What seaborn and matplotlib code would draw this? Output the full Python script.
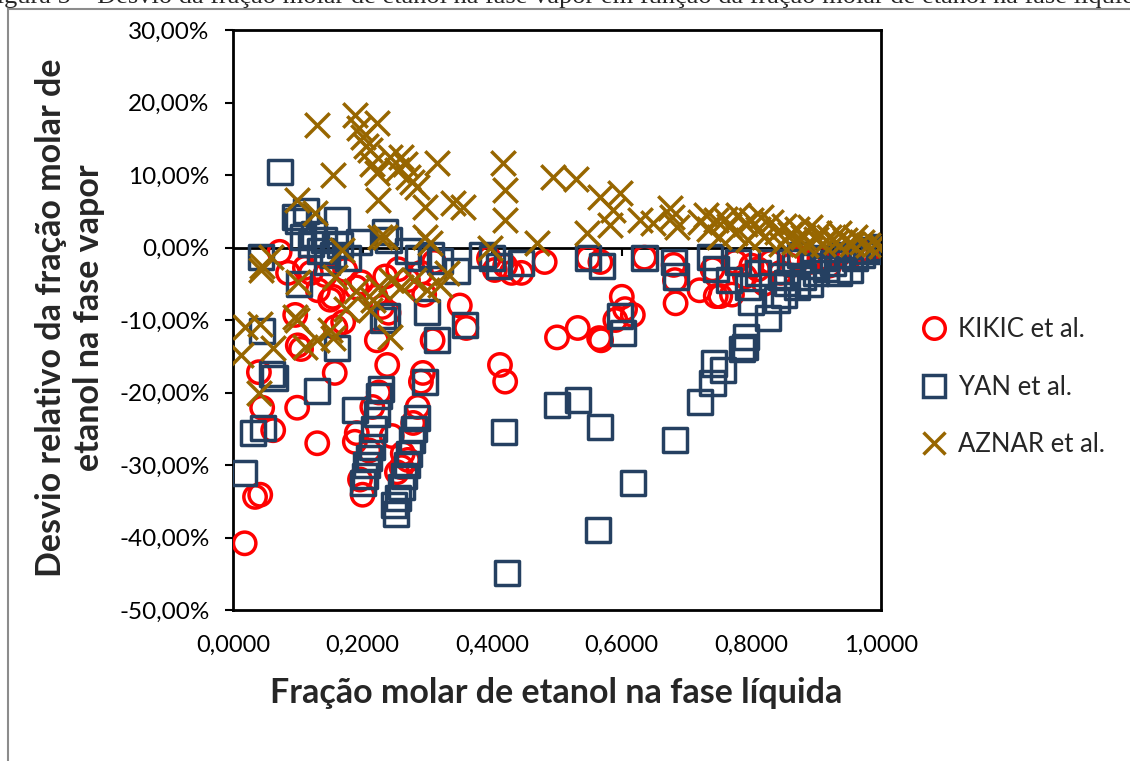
import numpy as np
import pandas as pd
import matplotlib
matplotlib.use("Agg")
import matplotlib.pyplot as plt
from matplotlib.ticker import FuncFormatter
from matplotlib.patches import Rectangle
from matplotlib.lines import Line2D
from matplotlib.markers import TICKDOWN
import seaborn as sns

# --- Dados: fração molar líquida (x) e desvio relativo (%) ---
kikic_x = [0.018, 0.034, 0.042, 0.040, 0.045, 0.062, 0.072, 0.085, 0.096, 0.099,
           0.100, 0.105, 0.111, 0.120, 0.130, 0.131, 0.142, 0.150, 0.154, 0.157,
           0.158, 0.170, 0.173, 0.188, 0.191, 0.190, 0.196, 0.198, 0.200, 0.210,
           0.215, 0.220, 0.222, 0.225, 0.230, 0.235, 0.238, 0.240, 0.245, 0.253,
           0.255, 0.260, 0.262, 0.270, 0.270, 0.278, 0.285, 0.290, 0.293, 0.290,
           0.295, 0.308, 0.310, 0.350, 0.360, 0.395, 0.404, 0.412, 0.420, 0.420,
           0.430, 0.445, 0.481, 0.500, 0.532, 0.548, 0.565, 0.568, 0.567, 0.590,
           0.600, 0.605, 0.617, 0.635, 0.680, 0.682, 0.683, 0.720, 0.740, 0.745,
           0.752, 0.770, 0.775, 0.790, 0.800, 0.810, 0.820, 0.830, 0.845, 0.860,
           0.875, 0.890, 0.905, 0.920, 0.935, 0.950, 0.965, 0.980, 0.995]
kikic_y = [-40.8, -34.4, -34.1, -17.2, -22.1, -25.2, -0.6, -3.5, -9.3, -22.1,
           -13.5, -14.0, -2.8, -3.5, -27.0, -5.9, -3.8, -7.2, -6.8, -17.3,
           -11.0, -10.3, -3.1, -26.8, -25.6, -5.5, -32.0, -4.8, -34.1, -28.0,
           -22.0, -6.8, -12.8, -20.0, -8.2, -4.0, -16.2, -9.0, -26.0, -31.0,
           -3.0, -30.3, -28.4, -29.3, -4.5, -24.2, -22.0, -18.5, -17.3, -3.5,
           -6.5, -12.8, -2.0, -8.0, -11.1, -1.5, -3.1, -16.2, -18.5, -2.5,
           -3.5, -3.5, -2.0, -12.4, -11.1, -1.5, -12.5, -12.8, -2.0, -10.0,
           -6.8, -8.5, -9.3, -1.4, -2.4, -4.5, -7.7, -5.9, -3.0, -6.7,
           -6.7, -6.5, -2.0, -4.0, -2.5, -3.0, -5.0, -2.0, -3.5, -2.5,
           -1.5, -2.0, -1.5, -2.5, -1.0, -1.5, -0.5, -0.5, 0.0]

yan_x = [0.017, 0.031, 0.043, 0.046, 0.045, 0.060, 0.064, 0.073, 0.096, 0.100,
         0.102, 0.108, 0.113, 0.120, 0.125, 0.130, 0.135, 0.140, 0.145, 0.155,
         0.160, 0.160, 0.165, 0.178, 0.188, 0.195, 0.200, 0.203, 0.206, 0.210,
         0.214, 0.218, 0.222, 0.225, 0.228, 0.231, 0.235, 0.238, 0.240, 0.248,
         0.252, 0.255, 0.260, 0.264, 0.268, 0.272, 0.276, 0.280, 0.284, 0.270,
         0.285, 0.296, 0.300, 0.306, 0.315, 0.320, 0.345, 0.358, 0.385, 0.400,
         0.410, 0.418, 0.423, 0.445, 0.500, 0.532, 0.548, 0.563, 0.566, 0.570,
         0.597, 0.602, 0.617, 0.635, 0.680, 0.682, 0.684, 0.720, 0.736, 0.740,
         0.742, 0.746, 0.756, 0.765, 0.780, 0.785, 0.790, 0.792, 0.795, 0.800,
         0.810, 0.826, 0.830, 0.840, 0.845, 0.850, 0.855, 0.860, 0.870, 0.875,
         0.880, 0.890, 0.895, 0.900, 0.910, 0.915, 0.926, 0.935, 0.940, 0.952,
         0.960, 0.970, 0.980, 0.990, 1.000]
yan_y = [-31.1, -25.6, -1.3, -24.9, -11.5, -17.5, -18.0, 10.4, 4.2, 3.6,
         -5.0, 1.5, 5.0, 0.5, 1.8, -19.8, -0.5, 1.0, -2.0, -1.0,
         3.8, -13.9, 0.3, -1.5, -22.4, 0.8, -32.5, -31.5, -30.0, -29.0,
         -27.5, -25.0, -23.0, -20.5, -19.5, -10.0, 2.1, -9.5, 1.0, -35.5,
         -36.8, -34.5, -33.0, -31.5, -30.0, -28.5, -26.5, -25.0, -23.5, -0.5,
         -1.5, -18.5, -8.9, -1.0, -12.8, -1.8, -3.2, -10.7, -1.0, -1.5,
         -2.5, -25.4, -44.9, -2.2, -21.7, -21.0, -1.5, -39.0, -24.8, -2.5,
         -9.5, -11.8, -32.5, -1.5, -2.0, -26.6, -4.0, -21.3, -1.3, -18.7,
         -16.0, -3.0, -16.9, -4.5, -2.0, -14.0, -13.7, -12.3, -5.5, -7.5,
         -3.5, -9.7, -2.0, -7.2, -4.0, -6.5, -4.9, -2.0, -5.5, -1.0,
         -4.0, -5.0, -2.5, -3.5, -1.5, -3.0, -2.1, -3.5, -1.0, -3.1,
         -1.5, -1.0, -0.5, -0.3, 0.0]

aznar_x = [0.012, 0.018, 0.040, 0.042, 0.043, 0.045, 0.059, 0.062, 0.096, 0.100,
           0.099, 0.111, 0.130, 0.150, 0.154, 0.157, 0.168, 0.175, 0.190, 0.211,
           0.216, 0.224, 0.242, 0.244, 0.260, 0.280, 0.300, 0.320, 0.330,
           0.099, 0.127, 0.130, 0.154, 0.188, 0.195, 0.200, 0.205, 0.211, 0.215,
           0.222, 0.222, 0.224, 0.227, 0.235, 0.242, 0.253, 0.260, 0.265, 0.270,
           0.276, 0.284, 0.296, 0.296, 0.304, 0.315, 0.340, 0.355, 0.397, 0.417,
           0.420, 0.420, 0.469, 0.494, 0.530, 0.546, 0.566, 0.582, 0.587, 0.597,
           0.628, 0.648, 0.674, 0.677, 0.685,
           0.720, 0.730, 0.735, 0.745, 0.750, 0.760, 0.765, 0.775, 0.780, 0.790,
           0.795, 0.800, 0.810, 0.815, 0.820, 0.830, 0.840, 0.845, 0.850, 0.860,
           0.865, 0.870, 0.880, 0.885, 0.890, 0.900, 0.905, 0.910, 0.920, 0.930,
           0.935, 0.945, 0.955, 0.960, 0.970, 0.980, 0.990, 1.000]
aznar_y = [-14.8, -11.0, -20.0, -10.5, -3.1, -2.5, -1.3, -13.9, -9.6, -4.8,
           -10.0, -13.7, -12.8, -11.4, -12.5, -4.1, -0.3, -8.5, -6.0, -8.6,
           -7.2, -5.5, -12.3, -4.5, -5.5, -4.5, -5.9, -5.2, -3.5,
           6.5, 4.7, 16.9, 10.0, 18.3, 16.5, 15.2, 14.0, 13.4, 11.5,
           17.2, 10.3, 6.6, 1.4, 1.4, 12.5, 10.7, 12.5, 11.5, 9.7,
           9.0, 8.3, 5.6, 1.4, 0.6, 11.6, 6.1, 5.6, 0.0, 11.6,
           7.9, 3.8, 0.6, 9.7, 9.5, 2.0, 7.0, 3.1, 5.2, 7.5,
           3.8, 3.4, 5.4, 4.2, 2.8,
           3.5, 4.5, 2.5, 3.8, 1.5, 4.0, 3.0, 2.0, 4.5, 3.2,
           1.0, 3.8, 2.5, 4.2, 1.5, 3.5, 2.2, 0.5, 3.0, 1.8,
           0.8, 2.5, 1.5, 0.3, 2.8, 1.2, 2.0, 0.5, 1.5, 0.8,
           2.0, 1.0, 0.5, 1.5, 0.8, 0.3, 0.5, 0.2]

series_names = ["KIKIC et al.", "YAN et al.", "AZNAR et al."]
x_ticks = [0.0, 0.2, 0.4, 0.6, 0.8, 1.0]
y_ticks = [-50, -40, -30, -20, -10, 0, 10, 20, 30]

colors = {"KIKIC et al.": "#FF0000", "YAN et al.": "#254061", "AZNAR et al.": "#976600"}
markers = {"KIKIC et al.": "o", "YAN et al.": "s", "AZNAR et al.": "x"}
sizes = {"KIKIC et al.": 260, "YAN et al.": 300, "AZNAR et al.": 310}

df = pd.concat([
    pd.DataFrame({"x": kikic_x, "y": kikic_y, "serie": series_names[0]}),
    pd.DataFrame({"x": yan_x, "y": yan_y, "serie": series_names[1]}),
    pd.DataFrame({"x": aznar_x, "y": aznar_y, "serie": series_names[2]}),
], ignore_index=True)

sns.set_theme(style="white")
plt.rcParams["font.family"] = ["Lato", "DejaVu Sans"]

W, H = 1130, 761
fig = plt.figure(figsize=(W / 100, H / 100), dpi=100)
ax = fig.add_axes([233 / W, 1 - 610 / H, (881 - 233) / W, (610 - 30) / H])

handles = []
for name in series_names:
    sub = df[df["serie"] == name]
    c = colors[name]
    sns.scatterplot(data=sub, x="x", y="y", ax=ax, marker=markers[name],
                    s=sizes[name], color=c, edgecolor=c, linewidth=2.5,
                    legend=False, zorder=3)
    coll = ax.collections[-1]
    if markers[name] != "x":
        coll.set_facecolor("none")
    coll.set_edgecolor(c)
    handles.append(Line2D([], [], ls="none", marker=markers[name], markersize=15.5,
                          markerfacecolor="none", markeredgecolor=c,
                          markeredgewidth=2.5, color=c))

ax.set_xlim(0, 1)
ax.set_ylim(-50, 30)
ax.set_xticks(x_ticks)
ax.set_yticks(y_ticks)
ax.xaxis.set_major_formatter(FuncFormatter(lambda v, p: f"{v:.4f}".replace(".", ",")))
ax.yaxis.set_major_formatter(FuncFormatter(lambda v, p: f"{v:.2f}%".replace(".", ",")))
ax.tick_params(axis="x", length=0, pad=18, labelsize=17, colors="black")
ax.tick_params(axis="y", length=6, width=1.5, direction="out", left=True, pad=11,
               labelsize=17.5, colors="black")
for sp in ax.spines.values():
    sp.set_color("black")
    sp.set_linewidth(2)
ax.set_xlabel("")
ax.set_ylabel("")
ax.grid(False)

# linha do eixo horizontal em y = 0 com as marcas de escala
ax.axhline(0, color="black", lw=2, zorder=2)
ax.plot(x_ticks[1:-1], [0] * (len(x_ticks) - 2), ls="none", marker=TICKDOWN,
        ms=6, mew=1.5, color="black", zorder=2)

ax.legend(handles=handles, labels=series_names, loc="center left",
          bbox_to_anchor=(903 / W, 1 - 387 / H), bbox_transform=fig.transFigure,
          frameon=False, fontsize=18.5, labelspacing=1.25, handletextpad=0.25,
          handlelength=1.4, borderpad=0)

fig.text(556 / W, 1 - 693 / H, "Fração molar de etanol na fase líquida",
         ha="center", va="center", fontsize=24.5, fontweight="bold")
fig.text(70 / W, 1 - 318 / H, "Desvio relativo da fração molar de\netanol na fase vapor",
         ha="center", va="center", rotation=90, fontsize=24.5, fontweight="bold",
         multialignment="center", linespacing=1.2)

# moldura da área do gráfico
fig.patches.append(Rectangle((8 / W, -0.1), 1.2, 1.1 - 9 / H, transform=fig.transFigure,
                             fill=False, edgecolor="#8c8c8c", lw=1.5))
fig.text(-18 / W, 1 - 3.5 / H,
         "Figura 5 – Desvio da fração molar de etanol na fase vapor em função da fração molar de etanol na fase líquida",
         ha="left", va="baseline", fontsize=19, family=["Liberation Serif", "DejaVu Serif"])

fig.savefig("out.png", dpi=100)
